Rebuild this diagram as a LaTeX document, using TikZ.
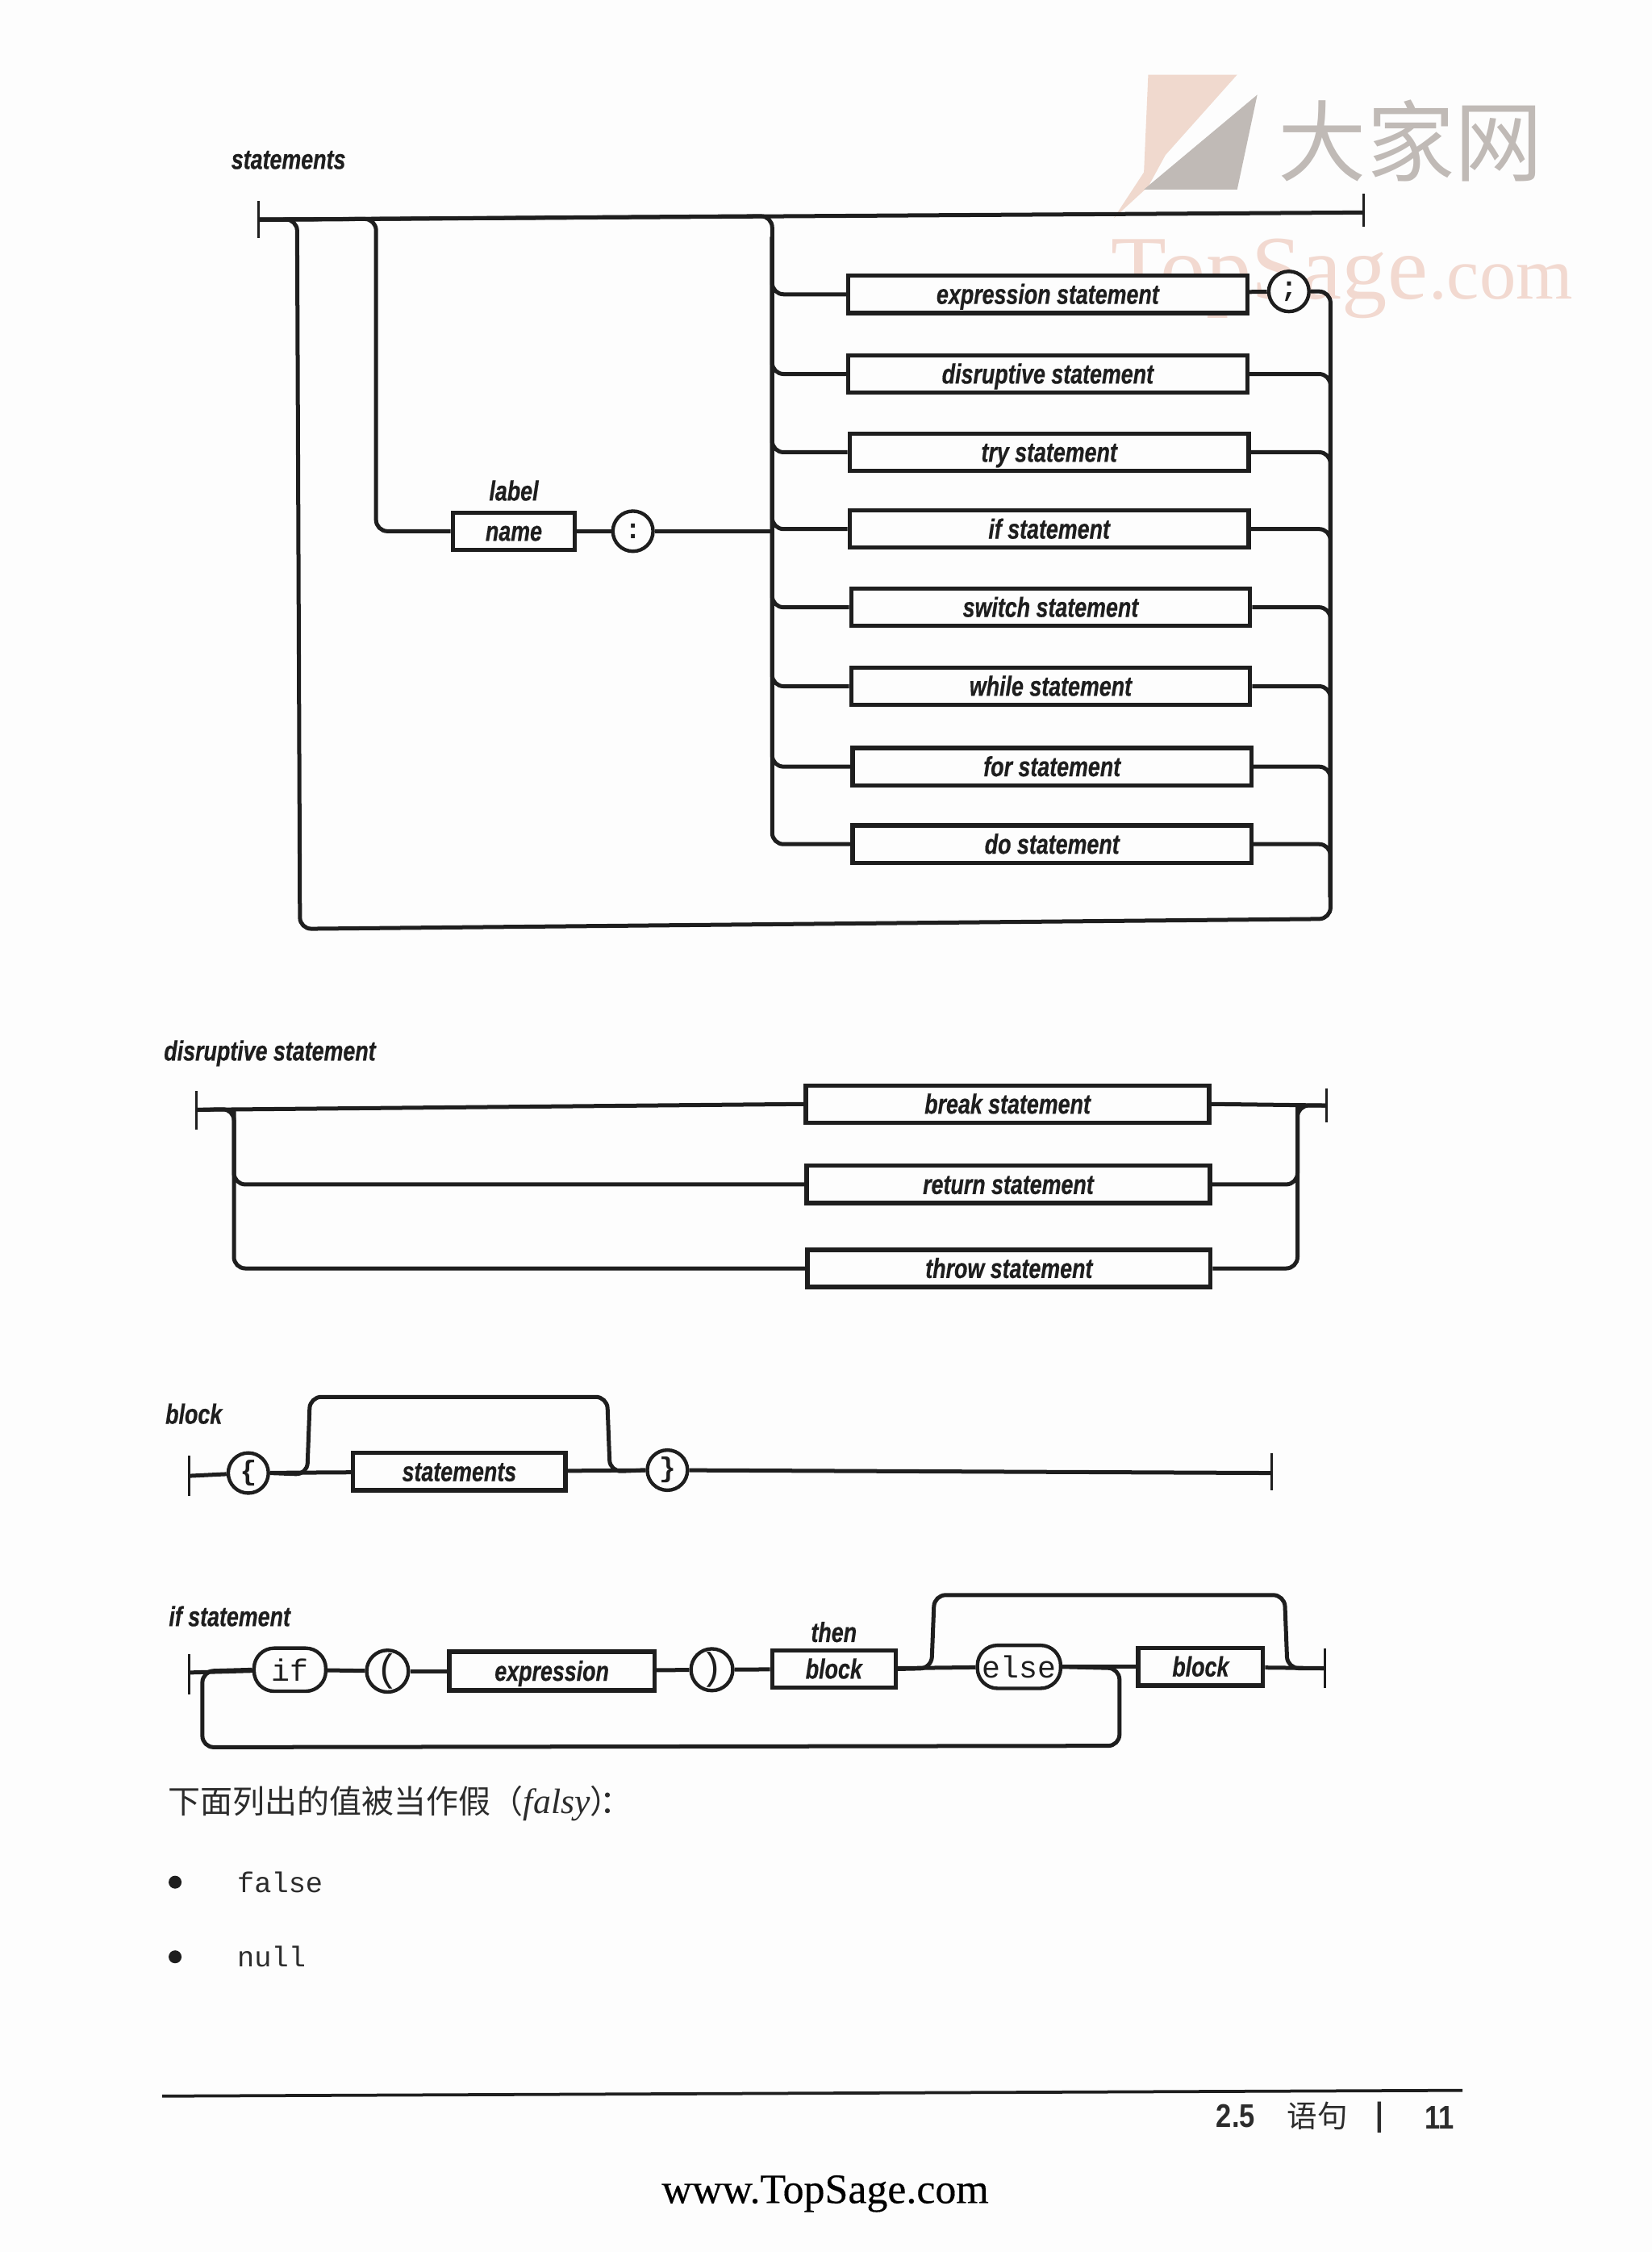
\documentclass[tikz,border=0pt]{standalone}
\usepackage{xcolor}
\usepackage{fontspec}
\usepackage{tikz}
\setmainfont{Liberation Serif}
\setmonofont{Liberation Mono}
\newfontfamily\sketchfont[FakeStretch=0.78,FakeBold=0.5]{Liberation Sans}
\newfontfamily\footfont[FakeStretch=0.85]{Liberation Sans}
\newfontfamily\sitefont[FakeBold=0.3]{Liberation Serif}
\newfontfamily\cjkfont{Noto Sans CJK SC}
\definecolor{pgPaper}{HTML}{FDFDFD}
\definecolor{pgInk}{HTML}{1E1E1E}
\definecolor{pgText}{HTML}{2C2C2C}
\definecolor{pgPink}{HTML}{F2D9D0}
\definecolor{pgPeach}{HTML}{F0D9CE}
\definecolor{pgGrey}{HTML}{C0BAB6}

\begin{document}
\begin{tikzpicture}[
    x=0.02cm,y=-0.02cm,
    wire/.style={draw=pgInk,line width=1.6pt,rounded corners=4.5pt},
    tick/.style={draw=pgInk,line width=1pt},
    box/.style={draw=pgInk,line width=1.7pt,fill=pgPaper,inner sep=0pt,minimum height=5.2mm,
                minimum width=5.56cm,text=pgInk,text height=8.5pt,text depth=0.9pt,
                font=\sketchfont\bfseries\itshape\fontsize{11}{12}\selectfont},
    lbl/.style={text=pgInk,inner sep=0pt,text height=8.5pt,text depth=0.9pt,
                font=\sketchfont\bfseries\itshape\fontsize{11}{12}\selectfont},
    term/.style={draw=pgInk,line width=1.4pt,fill=pgPaper,circle,inner sep=0pt,minimum size=5.6mm,
                 text=pgInk,font=\ttfamily\bfseries\fontsize{11}{12}\selectfont},
    thin/.style={font=\ttfamily\fontsize{15}{16}\selectfont},
    pill/.style={draw=pgInk,line width=1.4pt,fill=pgPaper,rounded corners=2.8mm,inner sep=0pt,minimum height=6mm,
                 text=pgInk,font=\ttfamily\fontsize{12.2}{13}\selectfont},
    page/.style={text=pgText,inner sep=0pt}
  ]
    \useasboundingbox (0,0) rectangle (1151,1568.6);
    \fill[pgPaper] (0,0) rectangle (1151,1568.6);

    % watermark
    \fill[pgPeach] (800,52) -- (862,52) -- (812,108) -- (800,130) -- (776,152) -- (797,120) -- cycle;
    \fill[pgGrey]  (876,66) -- (862,132) -- (797,132) -- cycle;
    \node[text=pgGrey,inner sep=0pt,font=\cjkfont\fontsize{35}{36}\selectfont] (wmCjk) at (983,98) {大家网};
    \node[text=pgPink,inner sep=0pt,anchor=base west,font=\fontsize{36}{38}\selectfont] (wmTop) at (774,208) {TopSage};
    \node[text=pgPink,inner sep=0pt,anchor=base west,font=\fontsize{29}{31}\selectfont] (wmCom) at (wmTop.base east) {.com};

    % statements
    \node[lbl] (stTitle) at (201,111) {statements};
    \coordinate (stIn)     at (180,153);
    \coordinate (stOut)    at (950,148);
    \coordinate (stLoopTL) at (207,152.8);
    \coordinate (stLoopBL) at (209,647);
    \coordinate (stLoopBR) at (927,640);
    \coordinate (stLabel)  at (262,152.5);
    \coordinate (stTrunk)  at (538,150.5);
    \coordinate (stTrunkB) at (538,165);
    \coordinate (stTrunkR) at (927,625);

    \node[box] (stExpr)   at (730,205) {expression statement};
    \node[box] (stDisr)   at (730,260.5) {disruptive statement};
    \node[box] (stTry)    at (731,315) {try statement};
    \node[box] (stIf)     at (731,368.5) {if statement};
    \node[box] (stSwitch) at (732,423) {switch statement};
    \node[box] (stWhile)  at (732,478) {while statement};
    \node[box] (stFor)    at (733,534) {for statement};
    \node[box] (stDo)     at (733,588) {do statement};
    \node[term] (stSemi)  at (898,203) {;};
    \node[lbl]  (stLabelTxt) at (358,342) {label};
    \node[box,minimum width=1.7cm] (stName) at (358,370) {name};
    \node[term] (stColon) at (441,370) {:};

    \draw[wire] (stIn) -- (stOut);
    \draw[tick] (stIn) ++(0,-13) -- ++(0,26);
    \draw[tick] (stOut) ++(0,-13) -- ++(0,23);
    \draw[wire] (stSemi.east) -| (stLoopBR) -- (stLoopBL) -- (stLoopTL) -- (stIn);
    \draw[wire] (stName.west) -| (stLabel) -- (stIn);
    \draw[wire] (stName) -- (stColon);
    \draw[wire] (stColon) -- (538,370);
    \draw[wire] (stExpr) -- (stSemi);
    \draw[wire] (stExpr.west)   -| (stTrunk) -- (stIn);
    \draw[wire] (stDisr.west)   -| (stTrunkB);
    \draw[wire] (stTry.west)    -| (stTrunkB);
    \draw[wire] (stIf.west)     -| (stTrunkB);
    \draw[wire] (stSwitch.west) -| (stTrunkB);
    \draw[wire] (stWhile.west)  -| (stTrunkB);
    \draw[wire] (stFor.west)    -| (stTrunkB);
    \draw[wire] (stDo.west)     -| (stTrunkB);
    \draw[wire] (stDisr.east)   -| (stTrunkR);
    \draw[wire] (stTry.east)    -| (stTrunkR);
    \draw[wire] (stIf.east)     -| (stTrunkR);
    \draw[wire] (stSwitch.east) -| (stTrunkR);
    \draw[wire] (stWhile.east)  -| (stTrunkR);
    \draw[wire] (stFor.east)    -| (stTrunkR);
    \draw[wire] (stDo.east)     -| (stTrunkR);

    % disruptive statement
    \node[lbl] (dsTitle) at (188,732) {disruptive statement};
    \coordinate (dsIn)  at (137,773);
    \coordinate (dsOut) at (924,770);
    \coordinate (dsL)   at (163,772.5);
    \coordinate (dsR)   at (904,770);
    \node[box,minimum width=5.62cm] (dsBreak)  at (702,769) {break statement};
    \node[box,minimum width=5.62cm] (dsReturn) at (702.5,825) {return statement};
    \node[box,minimum width=5.62cm] (dsThrow)  at (703,883.5) {throw statement};
    \draw[wire] (dsIn) -- (dsBreak.west);
    \draw[wire] (dsBreak.east) -- (dsOut);
    \draw[tick] (dsIn) ++(0,-13) -- ++(0,27);
    \draw[tick] (dsOut) ++(0,-12) -- ++(0,24);
    \draw[wire] (dsReturn.west) -| (dsL);
    \draw[wire] (dsThrow.west)  -| (dsL) -- (dsIn);
    \draw[wire] (dsReturn.east) -| (dsR);
    \draw[wire] (dsThrow.east)  -| (dsR) -- (dsOut);

    % block
    \node[lbl] (blTitle) at (135,985) {block};
    \coordinate (blIn)  at (132,1028);
    \coordinate (blOut) at (886,1026);
    \coordinate (blJL)  at (214,1027);
    \coordinate (blTL)  at (216,973);
    \coordinate (blTR)  at (423,973);
    \coordinate (blJR)  at (425,1025);
    \node[term] (blOpen)  at (173,1026) {\{};
    \node[box,minimum width=2.96cm] (blStmts) at (320,1025) {statements};
    \node[term] (blClose) at (465,1024) {\}};
    \draw[wire] (blIn) -- (blOpen);
    \draw[wire] (blOpen) -- (blStmts);
    \draw[wire] (blStmts) -- (blClose);
    \draw[wire] (blClose) -- (blOut);
    \draw[tick] (blIn) ++(0,-14) -- ++(0,28);
    \draw[tick] (blOut) ++(0,-14) -- ++(0,26);
    \draw[wire] (blOpen.east) -- (blJL) -- (blTL) -- (blTR) -- (blJR) -- (blClose.west);

    % if statement
    \node[lbl] (ifTitle) at (160,1126) {if statement};
    \coordinate (ifIn)  at (132,1165);
    \coordinate (ifOut) at (923,1162);
    \coordinate (ifJL)  at (649,1162);
    \coordinate (ifTL)  at (651,1111);
    \coordinate (ifTR)  at (895,1111);
    \coordinate (ifJR)  at (897,1162);
    \coordinate (ifBR)  at (780,1162);
    \coordinate (ifDR)  at (780,1216);
    \coordinate (ifDL)  at (141,1217);
    \coordinate (ifUL)  at (141,1164);
    \node[pill,minimum width=1.0cm] (ifKey) at (202,1163) {if};
    \node[term,thin] (ifOpen) at (270,1164) {(};
    \node[box,minimum width=2.86cm,minimum height=5.4mm] (ifExpr) at (384.5,1164) {expression};
    \node[term,thin] (ifClose) at (496,1163) {)};
    \node[lbl] (ifThen) at (581,1137) {then};
    \node[box,minimum width=1.72cm] (ifBlock) at (581,1162.5) {block};
    \node[pill,minimum width=1.16cm] (ifElse) at (710,1161) {else};
    \node[box,minimum width=1.74cm] (ifBlockB) at (836.5,1161) {block};
    \draw[wire] (ifIn) -- (ifKey);
    \draw[wire] (ifKey) -- (ifOpen);
    \draw[wire] (ifOpen) -- (ifExpr);
    \draw[wire] (ifExpr) -- (ifClose);
    \draw[wire] (ifClose) -- (ifBlock);
    \draw[wire] (ifBlock) -- (ifElse);
    \draw[wire] (ifElse) -- (ifBlockB);
    \draw[wire] (ifBlockB) -- (ifOut);
    \draw[tick] (ifIn) ++(0,-13) -- ++(0,28);
    \draw[tick] (ifOut) ++(0,-14) -- ++(0,28);
    \draw[wire] (ifBlock.east) -- (ifJL) -- (ifTL) -- (ifTR) -- (ifJR) -- (ifOut);
    \draw[wire] (ifElse.east) -- (ifBR) -- (ifDR) -- (ifDL) -- (ifUL) -- (ifKey.west);

    % page text
    \node[page,anchor=west,font=\cjkfont\fontsize{12.8}{16}\selectfont] (pgLine) at (117,1256)
        {下面列出的值被当作假（{\rmfamily\itshape\fontsize{14}{16}\selectfont falsy}）\hspace{-9pt}：};
    \node[page,circle,fill=pgInk,minimum size=1.8mm] (pgDotA) at (122,1311) {};
    \node[page,anchor=west,font=\ttfamily\fontsize{11.3}{13}\selectfont] (pgFalse) at (165,1311) {false};
    \node[page,circle,fill=pgInk,minimum size=1.8mm] (pgDotB) at (122,1363) {};
    \node[page,anchor=west,font=\ttfamily\fontsize{11.3}{13}\selectfont] (pgNull) at (165,1363) {null};

    \coordinate (ftL) at (113,1460);
    \coordinate (ftR) at (1019,1456);
    \draw[draw=pgInk,line width=1.2pt] (ftL) -- (ftR);
    \node[page,font=\footfont\bfseries\fontsize{13}{14}\selectfont] (ftNum) at (861,1474) {2.5};
    \node[page,font=\cjkfont\fontsize{12}{14}\selectfont] (ftTitle) at (918,1474) {语句};
    \node[page,font=\footfont\bfseries\fontsize{13}{14}\selectfont] (ftBar) at (961,1475) {|};
    \node[page,font=\footfont\bfseries\fontsize{13}{14}\selectfont] (ftPage) at (1003,1475) {11};
    \node[page,text=black,font=\sitefont\fontsize{16.6}{18}\selectfont] (ftSite) at (575,1528) {www.TopSage.com};
  \end{tikzpicture}
\end{document}
